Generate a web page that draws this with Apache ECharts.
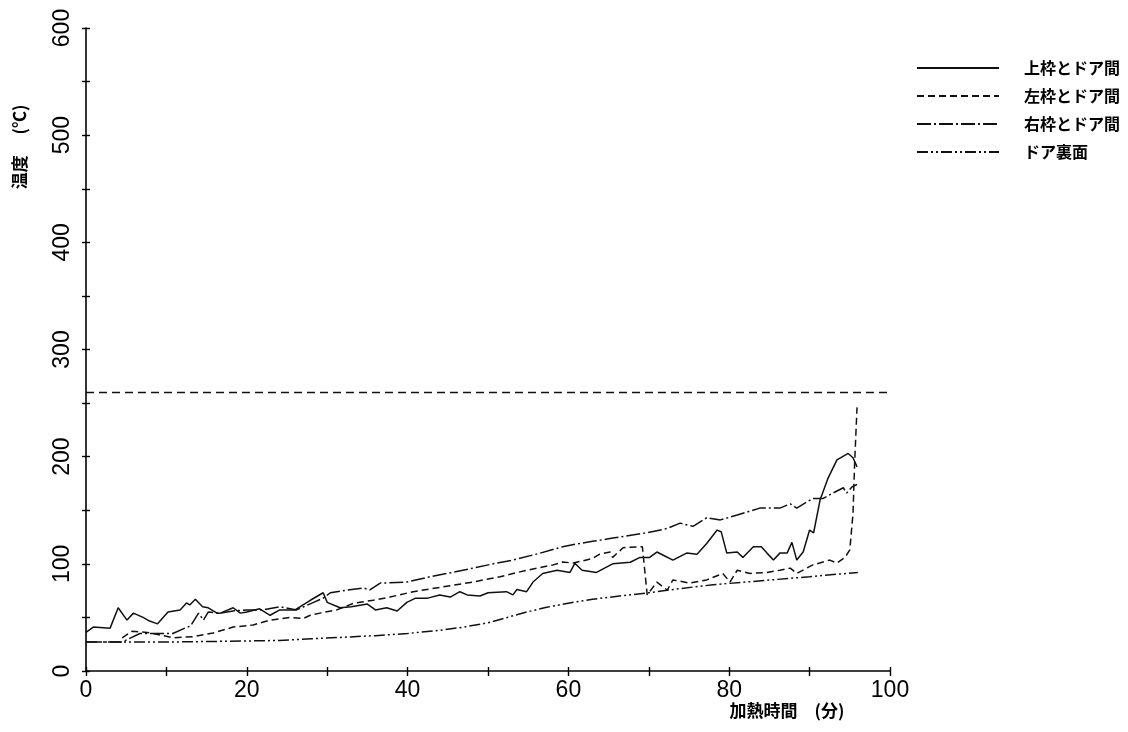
<!DOCTYPE html>
<html>
<head>
<meta charset="utf-8">
<script src="https://cdn.jsdelivr.net/npm/echarts@6/dist/echarts.min.js"></script>
<style>
html,body{margin:0;padding:0;background:#fff;}
#chart{width:1128px;height:732px;}
</style>
</head>
<body>
<div id="chart"></div>
<script>
// ---- data ----
const seriesNames = ['上枠とドア間', '左枠とドア間', '右枠とドア間', 'ドア裏面'];
const xTickLabels = [0, 20, 40, 60, 80, 100];
const yTickLabels = [0, 100, 200, 300, 400, 500, 600];
const limitValue = 260;

const topT = [0,0.9,3,4,5.1,5.9,7.1,7.9,8.9,10.2,11.7,12.5,12.9,13.6,14.5,15.2,16.3,16.7,18.3,19.2,20,21.6,22.9,24.1,26,27.9,29.5,30,31.6,33,35,36,37.4,38.7,39.9,41,42.5,44,45.3,46.5,47.4,49,50,52.3,53.1,53.6,54.8,55.6,56.8,58.6,60.2,60.8,61.7,63.5,65.5,67.7,68.9,70.1,71,71.8,73,74.7,76,77.2,78.5,79,79.7,81,81.7,83,84,84.7,85.5,86.3,87.2,87.8,88.4,89.2,90,90.5,91.3,92.3,93.4,94.8,95.4,95.9];
const topV = [36,41,40,59,47.5,54,50,46.6,44,55,57,63.5,61.6,67,60,59,54,54,59,54,55,58,52,57,57,66,73,64,59,60,62.5,57,59,56,64,68,68,71,69,74,71,70,73,74,71,76,74,83,91,94,92,100.5,94,92,100,101.5,106,106,111,108,103.5,110,109,119,131.5,130,110,111,106,116,116,110,103.5,110,110,120,103.5,111,131.5,129,159.5,180,197,203,199,190.5];

const leftT = [4.5,5.7,7.6,9.2,10.8,13.3,15.8,18.3,20.8,22.9,25.4,27,27.9,29.1,31.2,33.2,35.7,37.8,40.7,44,48.1,51.5,54.8,58.1,59.3,60.6,63,63.9,65.2,65.5,66.8,68.9,69.2,69.8,71,72.3,73,75.1,77.2,79.2,80.1,81,82.6,84.7,86.3,87.6,88.4,90.4,92.5,93.4,94.4,95,95.4,95.6,95.9];
const leftV = [31,37,36,33.6,31,32,35.4,41,43,47.5,50,49,52,54,57,63,66,69,74,78,83,88,94,99,101.7,100.7,105,109,111,106,115,116,116,71,83,75.5,85,82,85,91,83,94,91,92,94,96,91,99,103.5,100.7,106,113,147,194,246];

const rightT = [0,4.5,6.7,8.4,10.8,12.3,13,14,14.6,15.2,16.7,18.3,20,22,24.1,26.2,28.3,29.5,30.4,32.5,34.5,35.3,36.6,39.9,42.8,45.6,48.1,51.1,53.1,56.5,59.3,61.4,63,65.5,69.8,72.3,73.9,75.5,77.2,78.9,81,83.8,86.3,87.6,88.4,90.4,91.7,92.9,94.2,94.6,95.3,95.9];
const rightV = [27,27,35,35,35,40,42,54,47.5,55,54,56,57,57,60,57,64,68,73,75.6,77.5,75.6,82,83,88,92,96,100.7,103.5,110,116,119,121,124,129,133,138,135,143,141,145.5,152,152,156,152,161,161,166,171,166,172,174];

const backT = [0,10,20,24,28,32,36,40,44,47,50,52.4,54.8,57.3,59.8,63,67,70,74,78,82,86,90,96];
const backV = [27,27,28,28.5,30,31.5,33,35,38,41,45,50,55,59.5,63,67,70.5,73,77,80.5,83,85.5,88,92];

// ---- build ----
function pairs(ts, vs){ return ts.map((t,i)=>[t, vs[i]]); }
const numFont = '"Liberation Sans Narrow","Liberation Sans",Arial,sans-serif';
const cjkFont = '"Noto Sans CJK JP","Noto Sans",sans-serif';
const dashes = ['solid', [7,4], [14,3,2,3], [11,3,2,3,2,3]];
const dataSets = [pairs(topT, topV), pairs(leftT, leftV), pairs(rightT, rightV), pairs(backT, backV)];

const series = seriesNames.map((name, i) => ({
  name: name,
  type: 'line',
  data: dataSets[i],
  symbol: 'none',
  smooth: false,
  xAxisIndex: 0,
  yAxisIndex: 0,
  lineStyle: {color: '#111', width: 1.5, type: dashes[i]},
  itemStyle: {color: '#111'},
  animation: false,
  markLine: i === 0 ? {
    silent: true, symbol: 'none', label: {show: false},
    lineStyle: {color: '#111', width: 1.3, type: [8,5]},
    data: [{yAxis: limitValue}]
  } : undefined
}));

const chart = echarts.init(document.getElementById('chart'));
const grid = {left: 86, right: 238, top: 28, bottom: 61, containLabel: false};
chart.setOption({
  backgroundColor: '#fff',
  animation: false,
  grid: grid,
  legend: {
    orient: 'vertical',
    left: 911, top: 55,
    itemWidth: 82, itemHeight: 14, itemGap: 12,
    data: seriesNames,
    itemStyle: {opacity: 0},
    textStyle: {color: '#000', fontFamily: cjkFont, fontSize: 16, fontWeight: 'bold', padding: [0,0,0,20]},
    inactiveColor: '#111'
  },
  xAxis: [{
    type: 'value', min: 0, max: 100, interval: 10,
    axisLine: {show: true, lineStyle: {color: '#000', width: 1.6}},
    axisTick: {show: true, length: 5, lineStyle: {color: '#000', width: 1.4}},
    axisLabel: {color: '#000', fontFamily: numFont, fontSize: 23, margin: 8,
      formatter: v => xTickLabels.includes(v) ? String(v) : ''},
    splitLine: {show: false}
  }, {
    type: 'value', min: 0, max: 100, interval: 10, position: 'bottom',
    axisLine: {show: false},
    axisTick: {show: true, inside: true, length: 4, lineStyle: {color: '#000', width: 1.4}},
    axisLabel: {show: false}, splitLine: {show: false}
  }],
  yAxis: [{
    type: 'value', min: 0, max: 600, interval: 50,
    axisLine: {show: true, lineStyle: {color: '#000', width: 1.6}},
    axisTick: {show: true, length: 4, lineStyle: {color: '#000', width: 1.4}},
    axisLabel: {color: '#000', fontFamily: numFont, fontSize: 23, margin: 12, rotate: 90,
      formatter: v => yTickLabels.includes(v) ? String(v) : ''},
    splitLine: {show: false}
  }, {
    type: 'value', min: 0, max: 600, interval: 50, position: 'left',
    axisLine: {show: false},
    axisTick: {show: true, inside: true, length: 4, lineStyle: {color: '#000', width: 1.4}},
    axisLabel: {show: false}, splitLine: {show: false}
  }],
  graphic: [
    {type: 'text', x: 20, y: 147, rotation: Math.PI / 2,
     style: {text: '温度　 (℃)', fill: '#000', font: 'bold 17px ' + cjkFont, align: 'center', verticalAlign: 'middle'}},
    {type: 'text', x: 787, y: 711,
     style: {text: '加熱時間　(分)', fill: '#000', font: 'bold 17px ' + cjkFont, align: 'center', verticalAlign: 'middle'}}
  ],
  series: series
});
</script>
</body>
</html>
